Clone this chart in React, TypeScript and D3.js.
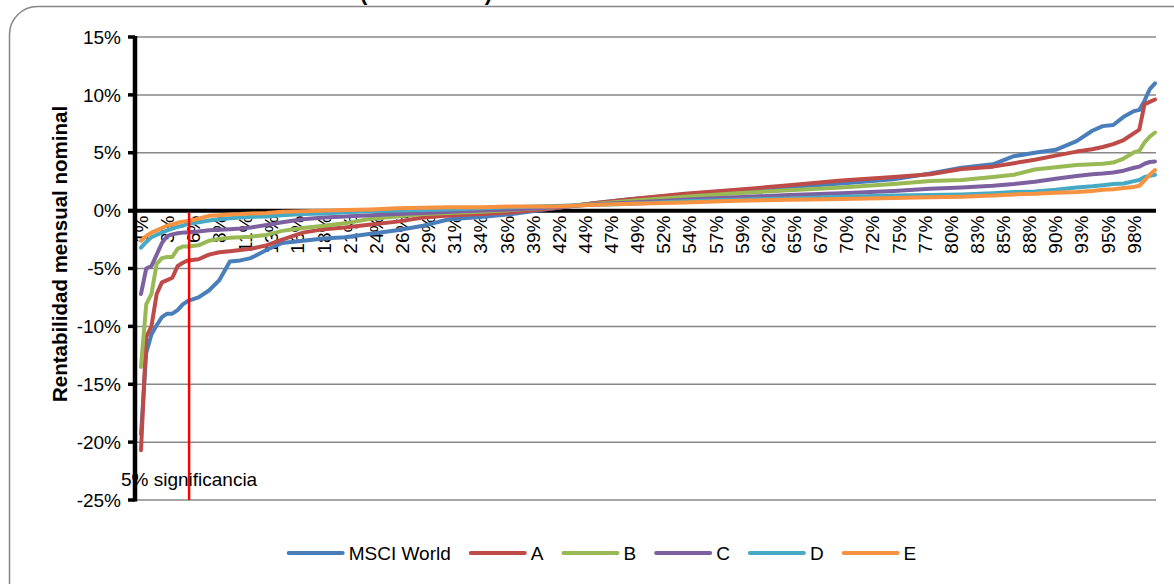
import React, { useEffect, useRef } from 'react';
import * as d3 from 'd3';

// sorted monthly returns, sampled at these ranks (1..195)
const pointIndex = [1, 2, 3, 4, 5, 6, 7, 8, 9, 10, 12, 14, 16, 18, 20, 22, 25, 28, 32, 36, 40, 45, 50, 55, 60, 66, 72, 80, 88, 95, 105, 115, 125, 135, 145, 152, 158, 164, 168, 172, 176, 180, 183, 185, 187, 189, 191, 192, 193, 194, 195];
const totalPoints = 195;

const msciWorld = [-19.3, -12.3, -10.7, -9.9, -9.2, -8.9, -8.9, -8.6, -8.1, -7.8, -7.5, -6.9, -6.0, -4.4, -4.3, -4.1, -3.4, -2.8, -2.6, -2.4, -2.3, -2.0, -1.7, -1.3, -0.75, -0.55, -0.3, 0.2, 0.65, 1.0, 1.4, 1.75, 2.05, 2.35, 2.7, 3.2, 3.7, 4.0, 4.7, 5.0, 5.25, 6.0, 6.9, 7.3, 7.4, 8.1, 8.6, 8.7, 9.5, 10.5, 11.0];
const fundA = [-20.7, -10.9, -10.0, -7.2, -6.2, -6.0, -5.8, -4.8, -4.5, -4.3, -4.2, -3.8, -3.6, -3.5, -3.4, -3.3, -3.0, -2.5, -1.9, -1.6, -1.45, -1.2, -0.95, -0.6, -0.43, -0.3, -0.15, 0.2, 0.65, 1.0, 1.45, 1.8, 2.2, 2.6, 2.9, 3.15, 3.6, 3.8, 4.1, 4.4, 4.75, 5.1, 5.3, 5.5, 5.75, 6.1, 6.7, 7.0, 9.2, 9.4, 9.6];
const fundB = [-13.5, -8.1, -7.2, -4.6, -4.1, -4.0, -4.0, -3.3, -3.1, -3.1, -3.0, -2.6, -2.45, -2.35, -2.3, -2.25, -2.1, -1.75, -1.5, -1.3, -1.1, -0.7, -0.5, -0.3, -0.2, -0.1, 0.05, 0.3, 0.6, 0.85, 1.2, 1.5, 1.75, 2.0, 2.3, 2.55, 2.65, 2.9, 3.1, 3.55, 3.75, 3.95, 4.0, 4.05, 4.15, 4.5, 5.05, 5.15, 5.9, 6.4, 6.75];
const fundC = [-7.2, -5.0, -4.8, -3.8, -2.8, -2.2, -2.05, -1.95, -1.9, -1.9, -1.8, -1.7, -1.65, -1.6, -1.55, -1.45, -1.25, -1.0, -0.75, -0.6, -0.5, -0.4, -0.3, -0.2, -0.1, 0.0, 0.1, 0.3, 0.55, 0.7, 0.95, 1.15, 1.35, 1.5, 1.7, 1.9, 2.0, 2.15, 2.3, 2.5, 2.75, 3.0, 3.15, 3.2, 3.3, 3.45, 3.7, 3.8, 4.05, 4.2, 4.25];
const fundD = [-3.2, -2.7, -2.3, -2.1, -1.9, -1.7, -1.55, -1.4, -1.3, -1.15, -1.0, -0.85, -0.75, -0.65, -0.6, -0.55, -0.5, -0.4, -0.3, -0.25, -0.15, -0.05, 0.0, 0.05, 0.1, 0.2, 0.3, 0.4, 0.5, 0.6, 0.8, 0.95, 1.05, 1.2, 1.3, 1.35, 1.4, 1.5, 1.6, 1.65, 1.8, 2.0, 2.1, 2.2, 2.3, 2.35, 2.55, 2.65, 2.9, 3.0, 3.1];
const fundE = [-2.6, -2.2, -1.9, -1.7, -1.5, -1.3, -1.2, -1.05, -0.95, -0.9, -0.7, -0.45, -0.4, -0.33, -0.3, -0.25, -0.2, -0.1, -0.05, 0.0, 0.05, 0.1, 0.2, 0.25, 0.3, 0.3, 0.35, 0.35, 0.5, 0.6, 0.7, 0.85, 0.95, 1.0, 1.1, 1.15, 1.2, 1.3, 1.4, 1.45, 1.55, 1.6, 1.7, 1.8, 1.85, 1.95, 2.05, 2.15, 2.6, 3.1, 3.5];

const seriesNames = ['MSCI World', 'A', 'B', 'C', 'D', 'E'];
const seriesValues = [msciWorld, fundA, fundB, fundC, fundD, fundE];
const seriesColors = ['#4A7EBB', '#BE4B48', '#98B954', '#7D60A0', '#46AAC5', '#F69240'];

const xTickLabels = ['1%', '3%', '6%', '8%', '11%', '13%', '16%', '18%', '21%', '24%', '26%', '29%', '31%', '34%', '36%', '39%', '42%', '44%', '47%', '49%', '52%', '54%', '57%', '59%', '62%', '65%', '67%', '70%', '72%', '75%', '77%', '80%', '83%', '85%', '88%', '90%', '93%', '95%', '98%'];
const labelStep = 5;
const yTicks = [-25, -20, -15, -10, -5, 0, 5, 10, 15];
const significanceIndex = 10.2;

export default function App() {
  const ref = useRef<SVGSVGElement>(null);

  useEffect(() => {
    if (!ref.current) return;
    const svg = d3.select(ref.current);
    svg.selectAll('*').remove();

    const font = '"Liberation Sans", Arial, sans-serif';
    const fs = 19;
    const left = 135;
    const right = 1156;
    const x = d3.scaleLinear().domain([1, totalPoints]).range([141, 1155]);
    const y = d3.scaleLinear().domain([-25, 15]).range([500, 37]);

    // frame
    svg.append('rect')
      .attr('x', 9.5).attr('y', 6.5)
      .attr('width', 1200).attr('height', 620)
      .attr('rx', 28)
      .attr('fill', '#fff')
      .attr('stroke', '#868686')
      .attr('stroke-width', 1.5);

    // title, mostly cut off above the page
    svg.append('text')
      .attr('x', 492).attr('y', -0.5)
      .attr('text-anchor', 'end')
      .attr('font-family', font)
      .attr('font-weight', 'bold')
      .attr('font-size', 22)
      .text('Distribución de rentabilidades (1998 - 2014)');

    // gridlines
    svg.append('g').selectAll('line')
      .data(yTicks.filter((d) => d !== 0))
      .enter().append('line')
      .attr('x1', left).attr('x2', right)
      .attr('y1', (d) => y(d)).attr('y2', (d) => y(d))
      .attr('stroke', '#878787')
      .attr('stroke-width', 1.5);

    // y axis
    svg.append('line')
      .attr('x1', left).attr('x2', left)
      .attr('y1', y(15) - 1).attr('y2', y(-25) + 1.5)
      .attr('stroke', '#000').attr('stroke-width', 4.5);
    svg.append('g').selectAll('line')
      .data(yTicks)
      .enter().append('line')
      .attr('x1', 128).attr('x2', left)
      .attr('y1', (d) => y(d)).attr('y2', (d) => y(d))
      .attr('stroke', '#000').attr('stroke-width', 3.5);
    svg.append('g').selectAll('text')
      .data(yTicks)
      .enter().append('text')
      .attr('x', 121)
      .attr('y', (d) => y(d))
      .attr('dy', '0.35em')
      .attr('text-anchor', 'end')
      .attr('font-family', font)
      .attr('font-size', fs)
      .attr('fill', '#000')
      .text((d) => `${d}%`);

    // y title
    svg.append('text')
      .attr('transform', 'translate(60,254) rotate(-90)')
      .attr('dy', '0.35em')
      .attr('text-anchor', 'middle')
      .attr('font-family', font)
      .attr('font-weight', 'bold')
      .attr('font-size', 20.5)
      .text('Rentabilidad mensual nominal');

    // zero line
    svg.append('line')
      .attr('x1', 128).attr('x2', right)
      .attr('y1', y(0)).attr('y2', y(0))
      .attr('stroke', '#000').attr('stroke-width', 4);

    // x labels
    svg.append('g').selectAll('text')
      .data(xTickLabels)
      .enter().append('text')
      .attr('transform', (_, k) => `translate(${x(1 + k * labelStep)},${y(0) + 5}) rotate(-90)`)
      .attr('dy', '0.35em')
      .attr('text-anchor', 'end')
      .attr('font-family', font)
      .attr('font-size', fs)
      .attr('fill', '#000')
      .text((d) => d);

    // series
    const line = d3.line<number>()
      .x((_, k) => x(pointIndex[k]))
      .y((d) => y(d));
    seriesValues.forEach((vals, s) => {
      svg.append('path')
        .attr('d', line(vals))
        .attr('fill', 'none')
        .attr('stroke', seriesColors[s])
        .attr('stroke-width', 4)
        .attr('stroke-linejoin', 'round')
        .attr('stroke-linecap', 'round');
    });

    // 5% significance marker
    const sx = x(significanceIndex);
    svg.append('line')
      .attr('x1', sx).attr('x2', sx)
      .attr('y1', y(0) + 2).attr('y2', y(-25))
      .attr('stroke', '#FF0000').attr('stroke-width', 2.5);
    svg.append('text')
      .attr('x', sx).attr('y', 486)
      .attr('text-anchor', 'middle')
      .attr('font-family', font)
      .attr('font-size', fs)
      .text('5% significancia');

    // legend
    const legend = svg.append('g');
    let cx = 0;
    const gap = 20;
    seriesNames.forEach((name, s) => {
      const item = legend.append('g').attr('transform', `translate(${cx},0)`);
      item.append('line')
        .attr('x1', 0).attr('x2', 54)
        .attr('y1', 553).attr('y2', 553)
        .attr('stroke', seriesColors[s])
        .attr('stroke-width', 4)
        .attr('stroke-linecap', 'round');
      const t = item.append('text')
        .attr('x', 60).attr('y', 553)
        .attr('dy', '0.35em')
        .attr('font-family', font)
        .attr('font-size', fs)
        .text(name);
      const w = (t.node() as SVGTextElement).getComputedTextLength();
      cx += 60 + w + gap;
    });
    const total = cx - gap;
    legend.attr('transform', `translate(${602.5 - total / 2},0)`);
  }, []);

  return (
    <svg
      ref={ref}
      width={1174}
      height={584}
      style={{ position: 'absolute', left: 0, top: 0, background: '#fff' }}
    />
  );
}
